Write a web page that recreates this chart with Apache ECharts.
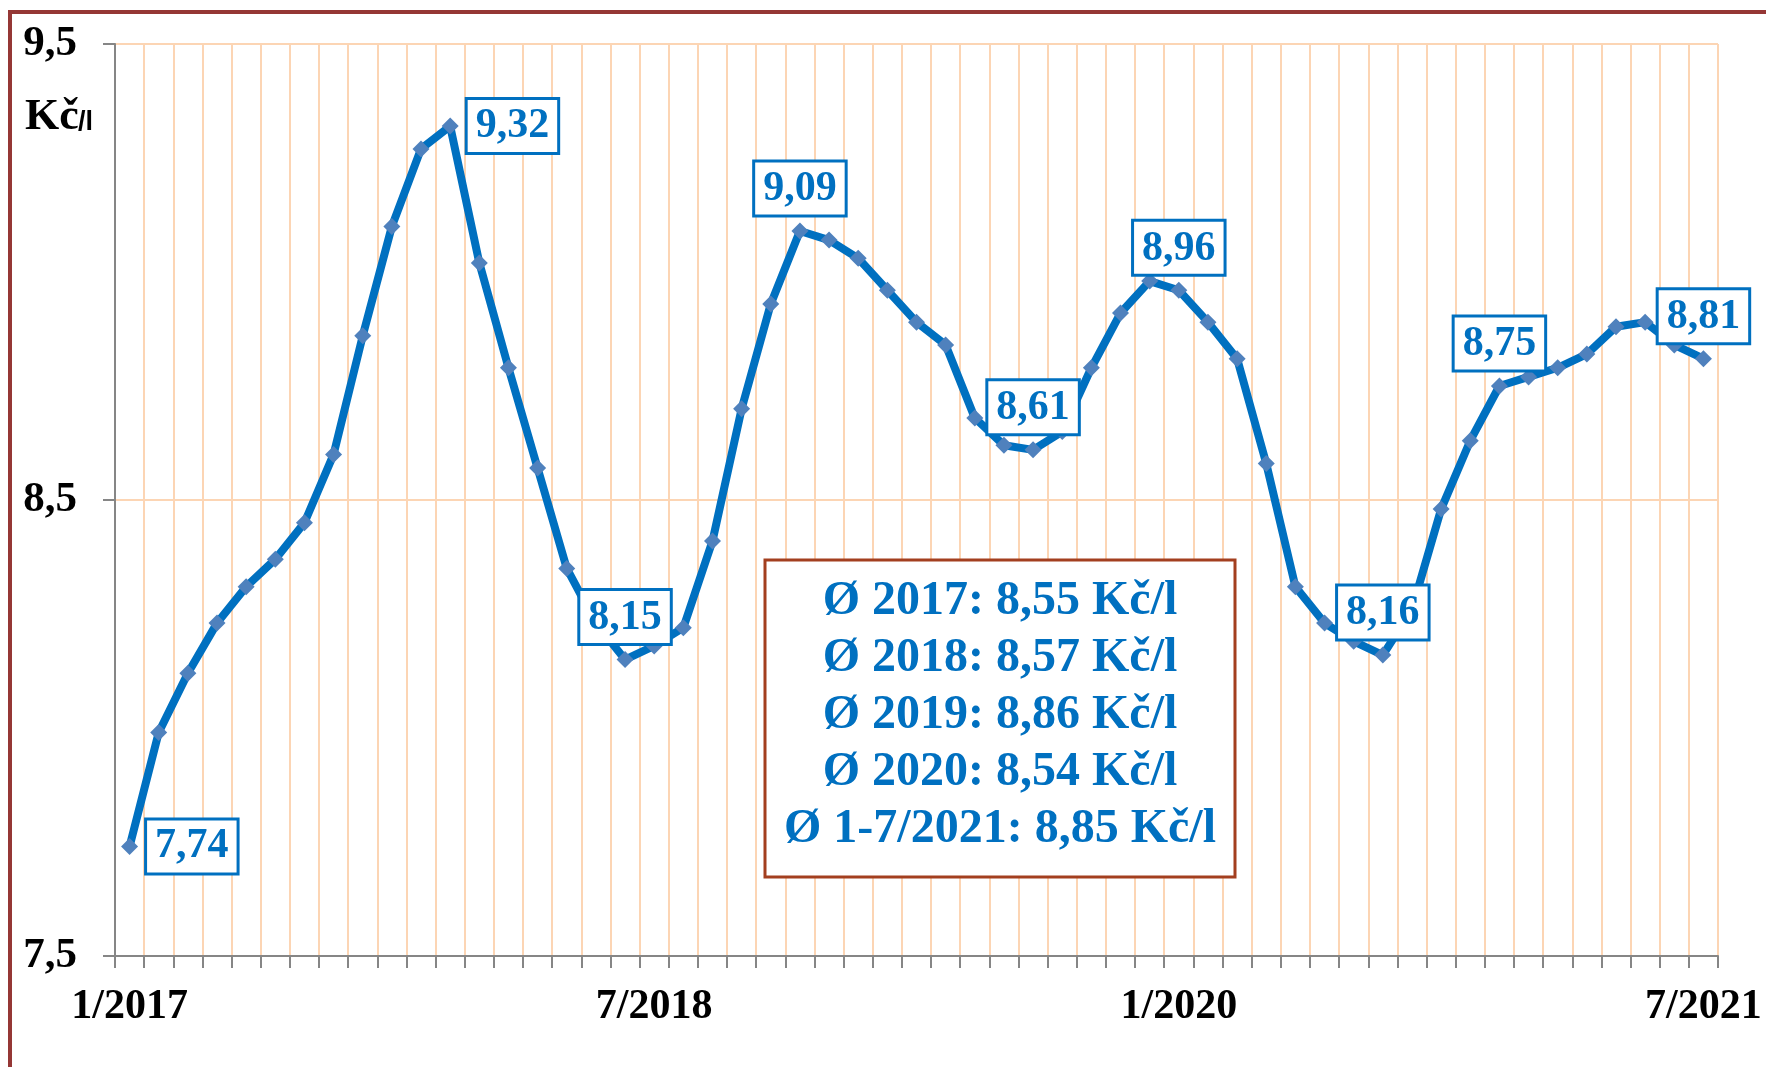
<!DOCTYPE html>
<html>
<head>
<meta charset="utf-8">
<script src="https://cdn.jsdelivr.net/npm/echarts@6/dist/echarts.min.js"></script>
<style>
html,body{margin:0;padding:0;background:#fff;}
#chart{width:1766px;height:1067px;}
</style>
</head>
<body>
<div id="chart"></div>
<script>
// Months 1/2017 .. 7/2021
const categories = [
  '1/2017','2/2017','3/2017','4/2017','5/2017','6/2017','7/2017','8/2017','9/2017','10/2017','11/2017','12/2017',
  '1/2018','2/2018','3/2018','4/2018','5/2018','6/2018','7/2018','8/2018','9/2018','10/2018','11/2018','12/2018',
  '1/2019','2/2019','3/2019','4/2019','5/2019','6/2019','7/2019','8/2019','9/2019','10/2019','11/2019','12/2019',
  '1/2020','2/2020','3/2020','4/2020','5/2020','6/2020','7/2020','8/2020','9/2020','10/2020','11/2020','12/2020',
  '1/2021','2/2021','3/2021','4/2021','5/2021','6/2021','7/2021'
];
// Price in Kč/l
const prices = [
  7.74, 7.99, 8.12, 8.23, 8.31, 8.37, 8.45, 8.60, 8.86, 9.10, 9.27, 9.32,
  9.02, 8.79, 8.57, 8.35, 8.23, 8.15, 8.18, 8.22, 8.41, 8.70, 8.93, 9.09,
  9.07, 9.03, 8.96, 8.89, 8.84, 8.68, 8.62, 8.61, 8.65, 8.79, 8.91, 8.98,
  8.96, 8.89, 8.81, 8.58, 8.31, 8.23, 8.19, 8.16, 8.26, 8.48, 8.63, 8.75,
  8.77, 8.79, 8.82, 8.88, 8.89, 8.84, 8.81
];
// Indices of labelled points
const labelledIdx = [0, 11, 17, 23, 31, 36, 43, 47, 54];
// Yearly averages box
const avgLabels = ['Ø 2017', 'Ø 2018', 'Ø 2019', 'Ø 2020', 'Ø 1-7/2021'];
const avgValues = [8.55, 8.57, 8.86, 8.54, 8.85];
const yTicks = [7.5, 8.5, 9.5];
const unit = 'Kč/l';

const fmt = v => v.toFixed(2).replace('.', ',');
const FONT = "'Liberation Serif','Times New Roman',serif";
const BLUE = '#0070C0';

// label placement (style only)
const rightLabelled = {0: true, 11: true};

const seriesData = prices.map((v, i) => {
  if (labelledIdx.indexOf(i) >= 0) {
    return {
      value: v,
      label: {
        show: true,
        position: rightLabelled[i] ? 'right' : 'top',
        distance: rightLabelled[i] ? 9 : 8
      }
    };
  }
  return v;
});

const avgText = avgLabels.map((l, i) => l + ': ' + fmt(avgValues[i]) + ' ' + unit).join('\n');

const chart = echarts.init(document.getElementById('chart'), null, {renderer: 'canvas'});
chart.setOption({
  backgroundColor: '#ffffff',
  animation: false,
  grid: {left: 115, right: 48, top: 44, bottom: 111, containLabel: false},
  xAxis: {
    type: 'category',
    data: categories,
    boundaryGap: true,
    axisLine: {show: true, lineStyle: {color: '#868686', width: 2}},
    axisTick: {show: true, interval: 0, length: 12, alignWithLabel: false, lineStyle: {color: '#868686', width: 2}},
    axisLabel: {
      interval: 17, margin: 30,
      fontFamily: FONT, fontWeight: 'bold', fontSize: 42, color: '#000'
    },
    splitLine: {show: true, interval: 0, lineStyle: {color: '#FCD5B4', width: 2}}
  },
  yAxis: {
    type: 'value',
    min: yTicks[0], max: yTicks[yTicks.length - 1], interval: 1,
    axisLine: {show: true, lineStyle: {color: '#868686', width: 2}},
    axisTick: {show: true, length: 12, lineStyle: {color: '#868686', width: 2}},
    axisLabel: {
      margin: 38,
      fontFamily: FONT, fontWeight: 'bold', fontSize: 43, color: '#000',
      formatter: v => v.toFixed(1).replace('.', ',')
    },
    splitLine: {show: true, lineStyle: {color: '#FCD5B4', width: 2}}
  },
  series: [{
    type: 'line',
    data: seriesData,
    symbol: 'diamond',
    symbolSize: 17,
    showAllSymbol: true,
    lineStyle: {color: BLUE, width: 8},
    itemStyle: {color: '#4F81BD'},
    label: {
      show: false,
      formatter: p => fmt(p.value),
      fontFamily: FONT, fontWeight: 'bold', fontSize: 42, color: BLUE,
      backgroundColor: '#ffffff', borderColor: BLUE, borderWidth: 3,
      padding: [6, 8, 4, 8]
    },
    z: 3
  }],
  graphic: [
    {type: 'line', z: 200, shape: {x1: 8, y1: 12, x2: 1766, y2: 12}, style: {stroke: '#953735', lineWidth: 4}},
    {type: 'line', z: 200, shape: {x1: 10, y1: 10, x2: 10, y2: 1067}, style: {stroke: '#953735', lineWidth: 4}},
    {type: 'text', z: 100, x: 25, y: 118, style: {text: 'Kč', font: "bold 44px 'Liberation Serif', serif", fill: '#000', verticalAlign: 'middle'}},
    {type: 'text', z: 100, x: 78, y: 123, style: {text: '/l', font: "bold 27px 'Liberation Sans', sans-serif", fill: '#000', verticalAlign: 'middle'}},
    {type: 'rect', z: 100, shape: {x: 765, y: 560, width: 470, height: 317}, style: {fill: '#ffffff', stroke: '#A33F1F', lineWidth: 3}},
    {type: 'text', z: 101, x: 1000, y: 716, style: {
      text: avgText, fill: BLUE, align: 'center', verticalAlign: 'middle',
      font: "bold 48px 'Liberation Serif', serif", lineHeight: 57
    }}
  ]
});
</script>
</body>
</html>
